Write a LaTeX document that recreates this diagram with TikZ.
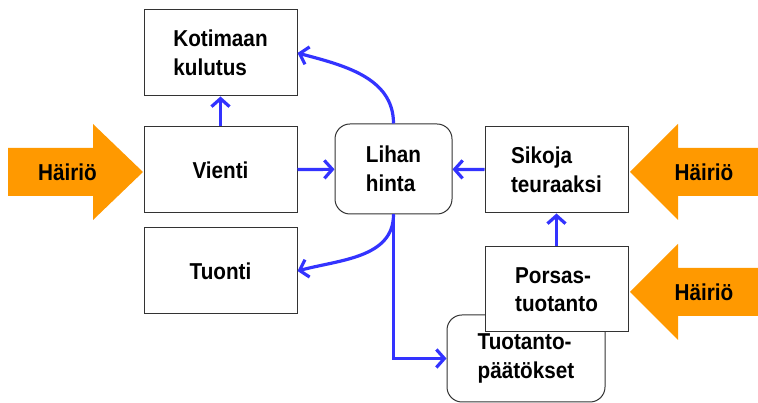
\documentclass[tikz,border=0pt]{standalone}
\usepackage{fontspec}
\setmainfont{Liberation Sans}[FakeStretch=0.9]
\usetikzlibrary{arrows.meta}
\definecolor{sininen}{RGB}{51,51,255}
\definecolor{oranssi}{RGB}{255,153,0}
\begin{document}
\begin{tikzpicture}[x=1pt, y=1pt,
 font=\fontsize{23}{28.5}\selectfont\bfseries,
 laatikko/.style={draw=black!80, line width=1pt, fill=white, align=left, minimum width=153pt, minimum height=86pt},
 pyorea/.style={laatikko, rounded corners=15pt},
 nuoli/.style={draw=sininen, line width=3.2pt, -{Straight Barb[length=8pt, width=18pt]}},
 hairio/.style={fill=oranssi}]
\useasboundingbox (0,0) rectangle (758,403);

\node[laatikko] (kotimaan) at (220.5,350) {Kotimaan\\kulutus};
\node[laatikko] (vienti) at (220.5,233) {Vienti};
\node[laatikko] (tuonti) at (220.5,132) {Tuonti};
\node[pyorea, minimum width=117pt, minimum height=90pt] (lihan) at (393.5,234) {Lihan\\hinta};
\node[laatikko, minimum width=143pt] (sikoja) at (556.5,233) {Sikoja\\teuraaksi};
\node[pyorea, minimum width=158pt, minimum height=87pt] (tuotanto) at (526,44.5) {Tuotanto-\\päätökset};
\node[laatikko, minimum width=143pt, minimum height=85pt] (porsas) at (556.5,113.5) {Porsas-\\tuotanto};

\fill[hairio] (8,255) -- (93,255) -- (93,279) -- (143,231) -- (93,183) -- (93,207) -- (8,207) -- cycle;
\node (hairio1) at (67.5,231) {Häiriö};
\fill[hairio] (758,255) -- (678,255) -- (678,279) -- (630,231) -- (678,183) -- (678,207) -- (758,207) -- cycle;
\node (hairio2) at (704,231) {Häiriö};
\fill[hairio] (758,135) -- (678,135) -- (678,159) -- (630,111) -- (678,63) -- (678,87) -- (758,87) -- cycle;
\node (hairio3) at (704,111) {Häiriö};

\draw[nuoli] (vienti) -- (kotimaan);
\draw[nuoli] (vienti) -- (lihan);
\draw[nuoli] (sikoja) -- (lihan);
\draw[nuoli] (porsas) -- (sikoja);
\draw[nuoli] (lihan.north) to[out=90, in=-15] (kotimaan.east);
\draw[nuoli] (lihan.south) to[out=-90, in=15] (tuonti.east);
\draw[nuoli] (lihan.south) |- (tuotanto.west);
\end{tikzpicture}
\end{document}
